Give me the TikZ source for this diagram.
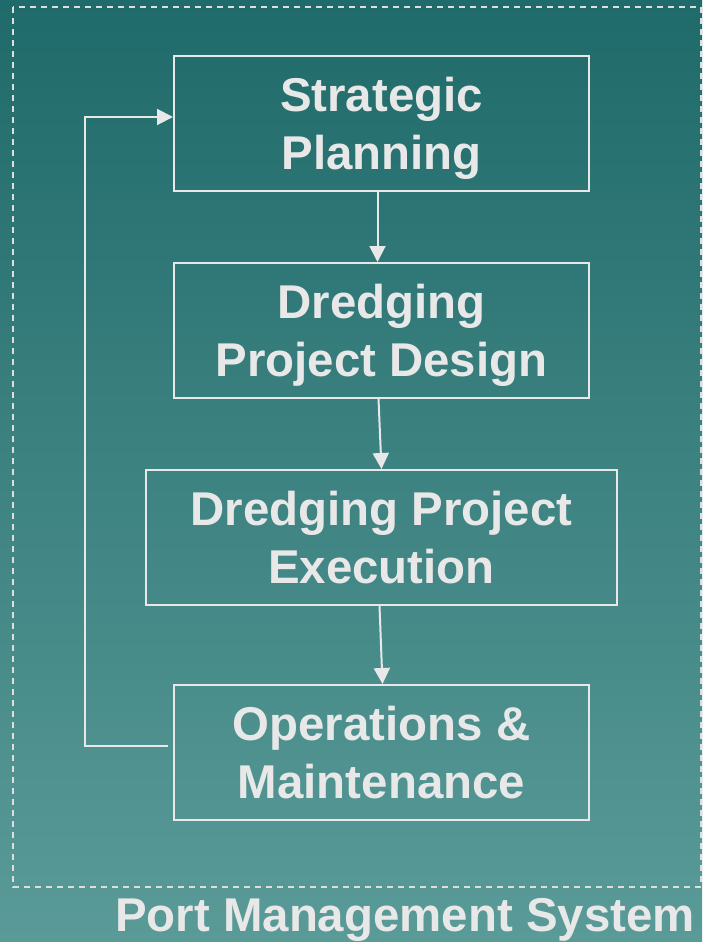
\documentclass[tikz,border=0pt]{standalone}
\usepackage{fontspec}
\setmainfont{Liberation Sans}
\usetikzlibrary{positioning, arrows.meta}
\definecolor{boxline}{HTML}{E8E8E8}
\definecolor{topteal}{HTML}{1F6A6A}
\definecolor{bottomteal}{HTML}{5A9B98}

\begin{document}
\begin{tikzpicture}[x=0.5pt, y=-0.5pt, node distance=35pt,
	stage/.style={draw=boxline, line width=1pt, minimum width=207.5pt, minimum height=67.5pt, align=center, text=boxline, font=\fontsize{23.7}{29.25}\selectfont\bfseries},
	flow/.style={draw=boxline, line width=1pt, -{Triangle[length=8pt,width=8pt]}}]
	\shade[top color=topteal, bottom color=bottomteal] (0,0) rectangle (702,942);
	\useasboundingbox (0,0) rectangle (702,942);
	\draw[boxline!90!gray, line width=0.75pt, dash pattern=on 3pt off 2.5pt] (13,7) rectangle (701,887);
	\node[stage] (strat) at (381.5,123.5) {Strategic\\\smash{Planning}};
	\node[stage, below=of strat] (design) {Dredging\\\smash{Project Design}};
	\node[stage, below=of design, minimum width=235.5pt] (exec) {Dredging Project\\\smash{Execution}};
	\node[stage, below=39pt of exec] (ops) {Operations \&\\\smash{Maintenance}};
	\draw[flow] ([xshift=-2pt]strat.south) -- ([xshift=-2pt]design.north);
	\draw[flow] ([xshift=-1.5pt]design.south) -- ([xshift=0pt]exec.north);
	\draw[flow] ([xshift=-1pt]exec.south) -- ([xshift=0.5pt]ops.north);
	\draw[flow] ([xshift=-2.5pt, yshift=3.25pt]ops.west) -- ++(-41.5pt,0) |- ([yshift=3.25pt]strat.west);
	\node[text=boxline, font=\fontsize{23.7}{29.25}\selectfont\bfseries, anchor=base] (sysname) at (405,931) {Port Management System};
\end{tikzpicture}
\end{document}
